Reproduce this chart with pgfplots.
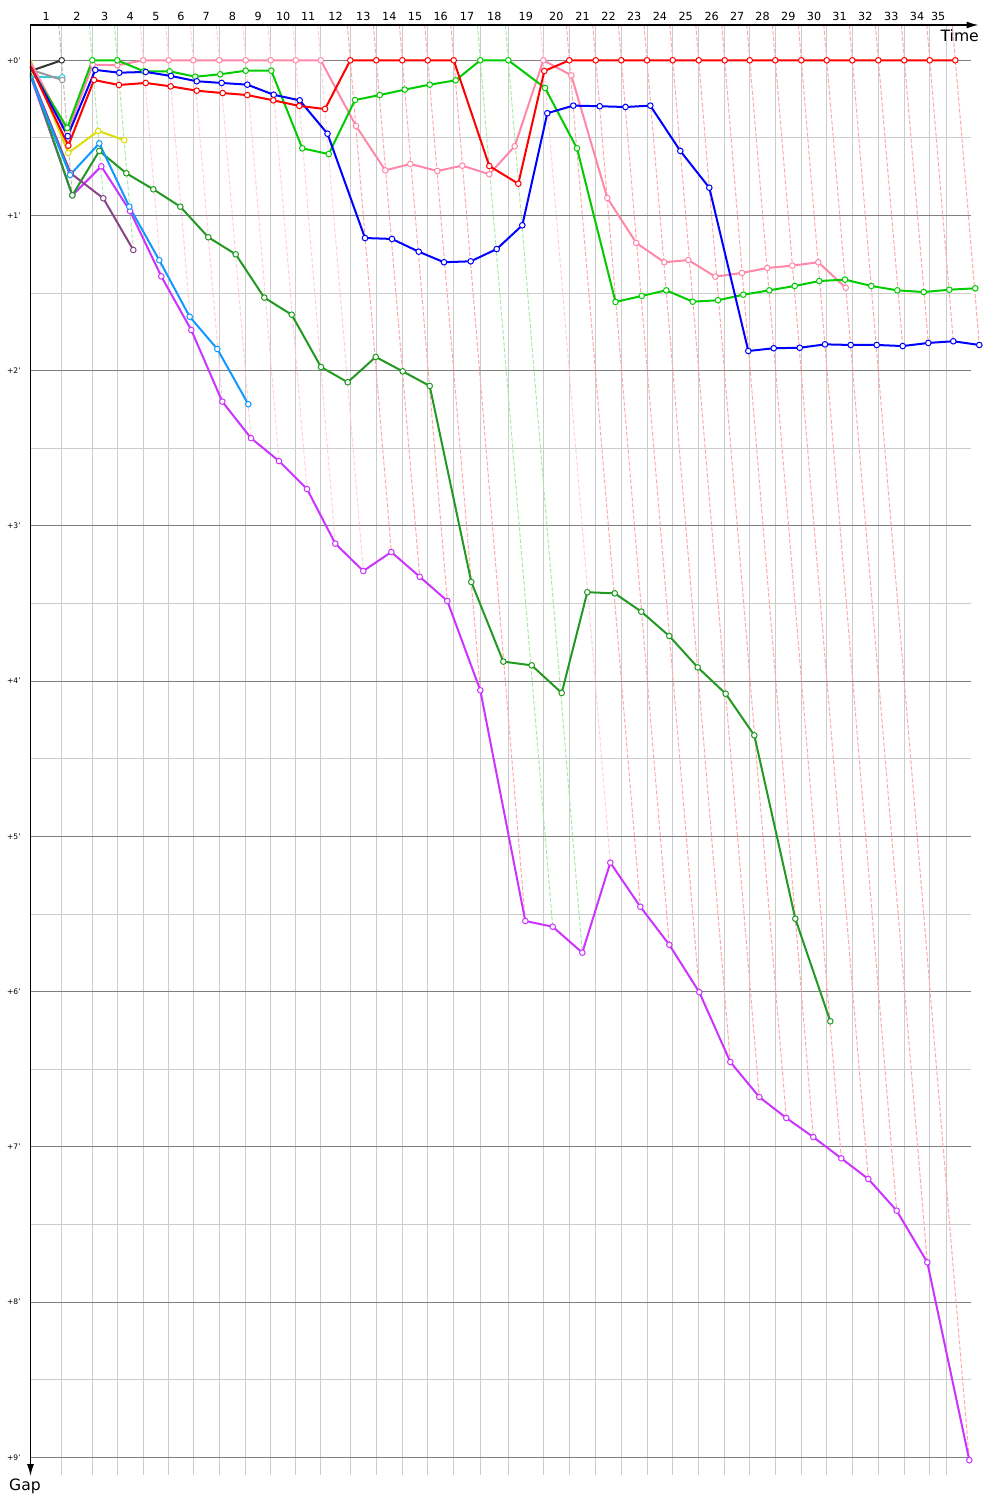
\documentclass[border=0pt]{standalone}
\usepackage{pgfplots}
\pgfplotsset{compat=1.18}
\usepackage{fontspec}
\setmainfont{DejaVu Sans}
\usetikzlibrary{arrows.meta}
\definecolor{cRed}{HTML}{FF0000}
\definecolor{cBlue}{HTML}{0000FF}
\definecolor{cGreen}{HTML}{00CC00}
\definecolor{cDGreen}{HTML}{229922}
\definecolor{cPink}{HTML}{FF88AA}
\definecolor{cMag}{HTML}{CC33FF}
\definecolor{cLBlue}{HTML}{1199FF}
\definecolor{cYellow}{HTML}{DDDD00}
\definecolor{cPurple}{HTML}{884488}
\definecolor{cBlack}{HTML}{333333}
\definecolor{cGray}{HTML}{999999}
\definecolor{cCyan}{HTML}{33CCDD}
\definecolor{gLight}{HTML}{CCCCCC}
\definecolor{gMajor}{HTML}{808080}
\definecolor{lapGray}{HTML}{BBBBBB}
\definecolor{lapGreen}{HTML}{A8E8A8}
\definecolor{lapPink}{HTML}{FFD0DD}
\definecolor{lapRed}{HTML}{FFA8A8}
\pgfplotsset{
  ser/.style={draw=#1, line width=1pt, mark=*, mark size=1.4pt,
    mark options={fill=white, draw=#1, line width=0.5pt, solid},
    mark repeat=1, mark phase=2},
  lap/.style={draw=#1, line width=0.5pt, dash pattern=on 2pt off 1pt, mark=none, forget plot},
}
\tikzset{lapl/.style={anchor=south, inner sep=0pt, yshift=1.9pt, font=\fontsize{5.6pt}{6.5pt}\selectfont}}
\begin{document}
\begin{tikzpicture}
\begin{axis}[
  scale only axis, width=470.1pt, height=725pt,
  xmin=30.5, xmax=970.7, ymin=-0.2274, ymax=9.114,
  y dir=reverse, clip=false,
  axis line style={draw=none},
  xtick={61.7,92.3,117.3,143.3,168.7,193.3,219.3,245.7,270.7,295.7,320.7,350.3,376.3,402.3,427.7,453.7,480.3,508.3,543.3,569.3,595.7,621.3,647,672.7,698.7,724.7,749.7,775.3,801.3,826.7,852.3,878.3,904.3,929.7,946.7},
  xticklabels=\empty,
  xmajorgrids=true,
  major x grid style={draw=gLight, line width=0.5pt},
  ytick={0,1,2,3,4,5,6,7,8,9},
  yticklabels={+0',+1',+2',+3',+4',+5',+6',+7',+8',+9'},
  minor ytick={0.5,1.5,2.5,3.5,4.5,5.5,6.5,7.5,8.5},
  ymajorgrids=true, yminorgrids=true,
  major y grid style={draw=gMajor, line width=0.5pt},
  minor y grid style={draw=gLight, line width=0.5pt},
  major tick length=0pt, minor tick length=0pt,
  tick style={draw=none},
  yticklabel style={font=\fontsize{3.8pt}{4pt}\selectfont, inner sep=0pt, xshift=-4.7pt},
]
% lap lines
\addplot[lap=lapGray] coordinates {(58.8,-0.2274) (72.3,0.870)};
\addplot[lap=lapGreen] coordinates {(89.4,-0.2274) (103.3,0.889)};
\addplot[lap=lapGreen] coordinates {(114.4,-0.2274) (133.3,1.222)};
\addplot[lap=lapPink] coordinates {(140.4,-0.2274) (161.3,1.392)};
\addplot[lap=lapPink] coordinates {(165.8,-0.2274) (191.3,1.738)};
\addplot[lap=lapPink] coordinates {(190.4,-0.2274) (222.3,2.199)};
\addplot[lap=lapPink] coordinates {(216.4,-0.2274) (251,2.434)};
\addplot[lap=lapPink] coordinates {(242.8,-0.2274) (279,2.582)};
\addplot[lap=lapPink] coordinates {(267.8,-0.2274) (307,2.762)};
\addplot[lap=lapPink] coordinates {(292.8,-0.2274) (335.3,3.114)};
\addplot[lap=lapPink] coordinates {(317.8,-0.2274) (363.3,3.290)};
\addplot[lap=lapRed] coordinates {(347.4,-0.2274) (391.3,3.168)};
\addplot[lap=lapRed] coordinates {(373.4,-0.2274) (419.7,3.327)};
\addplot[lap=lapRed] coordinates {(399.4,-0.2274) (447.3,3.483)};
\addplot[lap=lapRed] coordinates {(424.8,-0.2274) (480.3,4.059)};
\addplot[lap=lapRed] coordinates {(450.8,-0.2274) (525.3,5.545)};
\addplot[lap=lapGreen] coordinates {(477.4,-0.2274) (552.7,5.582)};
\addplot[lap=lapGreen] coordinates {(505.4,-0.2274) (582.3,5.749)};
\addplot[lap=lapPink] coordinates {(540.4,-0.2274) (610.3,5.169)};
\addplot[lap=lapRed] coordinates {(566.4,-0.2274) (640.3,5.453)};
\addplot[lap=lapRed] coordinates {(592.8,-0.2274) (669.3,5.698)};
\addplot[lap=lapRed] coordinates {(618.4,-0.2274) (699.3,6.004)};
\addplot[lap=lapRed] coordinates {(644.1,-0.2274) (730.3,6.453)};
\addplot[lap=lapRed] coordinates {(669.8,-0.2274) (759.3,6.679)};
\addplot[lap=lapRed] coordinates {(695.8,-0.2274) (786.3,6.814)};
\addplot[lap=lapRed] coordinates {(721.8,-0.2274) (813.3,6.937)};
\addplot[lap=lapRed] coordinates {(746.8,-0.2274) (841.3,7.074)};
\addplot[lap=lapRed] coordinates {(772.4,-0.2274) (868.3,7.207)};
\addplot[lap=lapRed] coordinates {(798.4,-0.2274) (896.7,7.411)};
\addplot[lap=lapRed] coordinates {(823.8,-0.2274) (927.3,7.744)};
\addplot[lap=lapRed] coordinates {(849.4,-0.2274) (969.3,9.019)};
\addplot[lap=lapRed] coordinates {(875.4,-0.2274) (902.7,1.841)};
\addplot[lap=lapRed] coordinates {(901.4,-0.2274) (928.3,1.821)};
\addplot[lap=lapRed] coordinates {(926.8,-0.2274) (953.3,1.810)};
\addplot[lap=lapRed] coordinates {(952.4,-0.2274) (979.3,1.834)};
% drivers
\addplot[ser=cMag] coordinates {(30.5,0.10) (72.3,0.870) (101.3,0.683) (130,0.971) (161.3,1.392) (191.3,1.738) (222.3,2.199) (251,2.434) (279,2.582) (307,2.762) (335.3,3.114) (363.3,3.290) (391.3,3.168) (419.7,3.327) (447.3,3.483) (480.3,4.059) (525.3,5.545) (552.7,5.582) (582.3,5.749) (610.3,5.169) (640.3,5.453) (669.3,5.698) (699.3,6.004) (730.3,6.453) (759.3,6.679) (786.3,6.814) (813.3,6.937) (841.3,7.074) (868.3,7.207) (896.7,7.411) (927.3,7.744) (969.3,9.019)};
\addplot[ser=cDGreen] coordinates {(30.5,0.08) (72.3,0.870) (99.3,0.584) (126.3,0.728) (153.3,0.831) (180.3,0.943) (208.3,1.140) (235.7,1.250) (264.3,1.529) (291.7,1.639) (321,1.976) (347.7,2.074) (375.7,1.911) (402.7,2.004) (429.7,2.098) (471.3,3.361) (503.3,3.874) (531.7,3.898) (561.7,4.076) (587.3,3.427) (614.7,3.434) (641.3,3.552) (669.3,3.709) (697.7,3.911) (725.7,4.081) (754.3,4.349) (795.3,5.530) (830.3,6.191)};
\addplot[ser=cPurple] coordinates {(30.5,0.09) (70.7,0.728) (103.3,0.889) (133.3,1.222)};
\addplot[ser=cLBlue] coordinates {(30.5,0.10) (70,0.739) (99.3,0.535) (129.3,0.943) (159.3,1.288) (189.7,1.652) (217.3,1.860) (248.3,2.216)};
\addplot[ser=cYellow] coordinates {(30.5,0.0) (68.3,0.597) (98.3,0.455) (124.3,0.515)};
\addplot[ser=cCyan] coordinates {(30.5,0.106) (62.3,0.110)};
\addplot[ser=cGray] coordinates {(30.5,0.06) (62.3,0.127)};
\addplot[ser=cBlack] coordinates {(30.5,0.069) (61.7,0)};
\addplot[ser=cPink] coordinates {(30.5,0.01) (67.7,0.466) (92.7,0.028) (117.3,0.032) (143.3,0) (168.7,0) (193.3,0) (219.3,0) (245.7,0) (270.7,0) (295.7,0) (320.7,0) (356,0.423) (385.3,0.709) (410.3,0.668) (437.3,0.713) (462.3,0.679) (489.3,0.734) (514.7,0.554) (543.3,0) (571.3,0.097) (607.3,0.887) (636.3,1.177) (664.3,1.301) (688.3,1.287) (715.3,1.394) (742,1.370) (767.3,1.338) (792.3,1.323) (818.3,1.301) (845.7,1.465)};
\addplot[ser=cGreen] coordinates {(30.5,0.05) (67.3,0.436) (92.3,0) (117.3,0) (144,0.071) (169.7,0.071) (195.3,0.106) (220.3,0.090) (245.7,0.067) (271.3,0.067) (302.3,0.567) (328.7,0.604) (355,0.256) (379.7,0.224) (404.7,0.189) (429.7,0.157) (455.7,0.129) (480.3,0) (508.3,0) (545,0.178) (577,0.567) (615.5,1.557) (641.7,1.518) (666.3,1.482) (692.7,1.555) (718,1.546) (743.3,1.510) (769.3,1.482) (794.7,1.454) (819.3,1.422) (845,1.413) (871.3,1.454) (897.3,1.482) (923.7,1.493) (949.3,1.478) (975.3,1.469)};
\addplot[ser=cBlue] coordinates {(30.5,0.04) (67.7,0.488) (95.3,0.062) (119.3,0.080) (145.7,0.075) (171,0.101) (196.7,0.135) (221.7,0.146) (247.3,0.157) (273.7,0.222) (299.7,0.258) (327.5,0.473) (365,1.145) (392,1.151) (418.7,1.233) (444,1.301) (470.7,1.295) (496.7,1.216) (522.3,1.063) (547.3,0.341) (573.3,0.292) (599.7,0.296) (625.5,0.301) (650.3,0.292) (680.3,0.584) (709.3,0.821) (748.3,1.873) (773.7,1.855) (799.7,1.852) (825,1.830) (850.7,1.834) (876.7,1.834) (902.7,1.841) (928.3,1.821) (953.3,1.810) (979.3,1.834)};
\addplot[ser=cRed] coordinates {(30.5,0.037) (68.3,0.550) (94,0.127) (119,0.159) (145.7,0.146) (170.7,0.168) (196.7,0.196) (222.7,0.211) (247.3,0.224) (273.3,0.258) (299.3,0.294) (325,0.314) (350.3,0) (376.3,0) (402.3,0) (427.7,0) (453.7,0) (489.3,0.681) (518.3,0.795) (544.3,0.069) (569.3,0) (595.7,0) (621.3,0) (647,0) (672.7,0) (698.7,0) (724.7,0) (749.7,0) (775.3,0) (801.3,0) (826.7,0) (852.3,0) (878.3,0) (904.3,0) (929.7,0) (955.3,0)};
% axes with arrows
\draw[line width=0.7pt, -{Latex[length=6pt,width=3.5pt]}] (axis cs:30.5,-0.2274) -- (axis cs:978.5,-0.2274);
\draw[line width=0.7pt, -{Latex[length=6pt,width=3.5pt]}] (axis cs:30.5,-0.2274) -- (axis cs:30.5,9.121);
\node[font=\fontsize{7.8pt}{8.5pt}\selectfont, inner sep=0pt] at (axis cs:959.7,-0.157) {Time};
\node[font=\fontsize{7.8pt}{8.5pt}\selectfont, inner sep=0pt] at (axis cs:25,9.185) {Gap};
% lap labels
\node[lapl] at (axis cs:46.1,-0.2274) {1};
\node[lapl] at (axis cs:77.0,-0.2274) {2};
\node[lapl] at (axis cs:104.8,-0.2274) {3};
\node[lapl] at (axis cs:130.3,-0.2274) {4};
\node[lapl] at (axis cs:156.0,-0.2274) {5};
\node[lapl] at (axis cs:181.0,-0.2274) {6};
\node[lapl] at (axis cs:206.3,-0.2274) {7};
\node[lapl] at (axis cs:232.5,-0.2274) {8};
\node[lapl] at (axis cs:258.2,-0.2274) {9};
\node[lapl] at (axis cs:283.2,-0.2274) {10};
\node[lapl] at (axis cs:308.2,-0.2274) {11};
\node[lapl] at (axis cs:335.5,-0.2274) {12};
\node[lapl] at (axis cs:363.3,-0.2274) {13};
\node[lapl] at (axis cs:389.3,-0.2274) {14};
\node[lapl] at (axis cs:415.0,-0.2274) {15};
\node[lapl] at (axis cs:440.7,-0.2274) {16};
\node[lapl] at (axis cs:467.0,-0.2274) {17};
\node[lapl] at (axis cs:494.3,-0.2274) {18};
\node[lapl] at (axis cs:525.8,-0.2274) {19};
\node[lapl] at (axis cs:556.3,-0.2274) {20};
\node[lapl] at (axis cs:582.5,-0.2274) {21};
\node[lapl] at (axis cs:608.5,-0.2274) {22};
\node[lapl] at (axis cs:634.2,-0.2274) {23};
\node[lapl] at (axis cs:659.9,-0.2274) {24};
\node[lapl] at (axis cs:685.7,-0.2274) {25};
\node[lapl] at (axis cs:711.7,-0.2274) {26};
\node[lapl] at (axis cs:737.2,-0.2274) {27};
\node[lapl] at (axis cs:762.5,-0.2274) {28};
\node[lapl] at (axis cs:788.3,-0.2274) {29};
\node[lapl] at (axis cs:814.0,-0.2274) {30};
\node[lapl] at (axis cs:839.5,-0.2274) {31};
\node[lapl] at (axis cs:865.3,-0.2274) {32};
\node[lapl] at (axis cs:891.3,-0.2274) {33};
\node[lapl] at (axis cs:917.0,-0.2274) {34};
\node[lapl] at (axis cs:938.2,-0.2274) {35};
\coordinate (BL) at (axis cs:0,9.2752);
\coordinate (TR) at (axis cs:1000,-0.38848);
\end{axis}
\pgfresetboundingbox
\path[use as bounding box] (BL) rectangle (TR);
\end{tikzpicture}
\end{document}
